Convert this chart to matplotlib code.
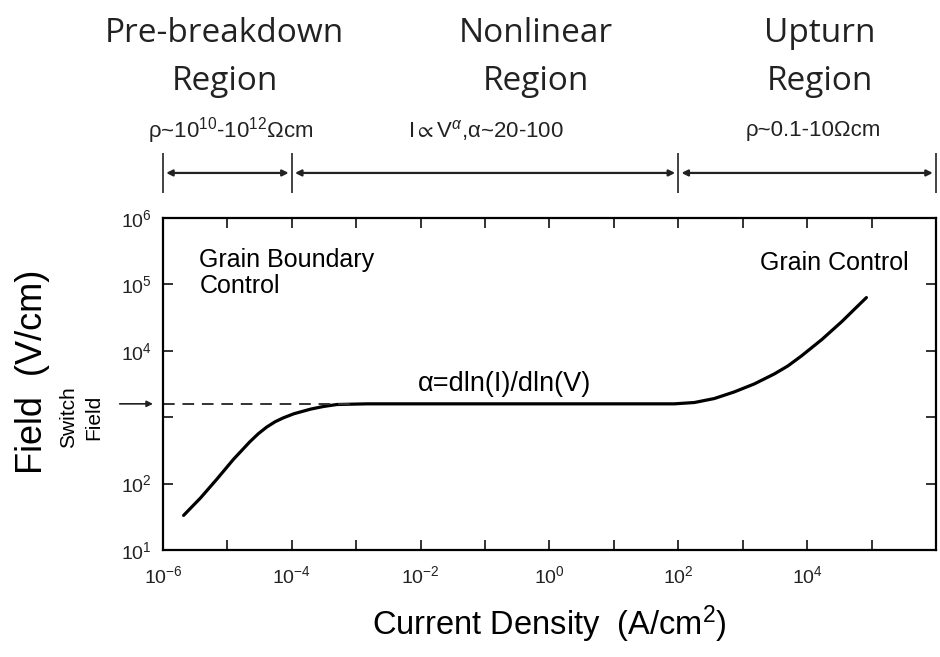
import numpy as np
import matplotlib
matplotlib.use("Agg")
import matplotlib.pyplot as plt
from matplotlib.ticker import FixedLocator, FuncFormatter, NullLocator

plt.rcParams['font.family'] = ['Liberation Sans', 'DejaVu Sans']
plt.rcParams['mathtext.fontset'] = 'custom'
plt.rcParams['mathtext.rm'] = 'Liberation Sans'
plt.rcParams['mathtext.it'] = 'Liberation Sans:italic'
plt.rcParams['mathtext.fallback'] = 'stixsans'

# ---------------- data (log10 units) ----------------
current_exp = [-5.68, -5.42, -5.16, -4.91, -4.65, -4.52, -4.39, -4.26, -4.13, -3.97,
               -3.71, -3.51, -3.30, -2.83, -2.0, -1.0, 0.0, 1.0, 1.57, 1.94,
               2.25, 2.56, 2.87, 3.18, 3.49, 3.70, 3.91, 4.23, 4.54, 4.74, 4.92]
field_exp = [1.52, 1.78, 2.07, 2.36, 2.63, 2.75, 2.85, 2.93, 2.99, 3.05,
             3.12, 3.16, 3.19, 3.20, 3.20, 3.20, 3.20, 3.20, 3.20, 3.20,
             3.22, 3.28, 3.38, 3.50, 3.65, 3.77, 3.92, 4.17, 4.44, 4.63, 4.80]
current = [10 ** e for e in current_exp]
field = [10 ** e for e in field_exp]

switch_field = 10 ** 3.2
dash_end = 10 ** -3.1

# region boundaries on the current axis
region_bounds = [1e-6, 1e-4, 1e2, 1e6]
region_names = ['Pre-breakdown\nRegion', 'Nonlinear\nRegion', 'Upturn\nRegion']
region_notes = [r'ρ~10$^{10}$-10$^{12}$Ωcm', r'I$\propto$V$^{α}$,α~20-100', r'ρ~0.1-10Ωcm']

x_ticks = [10.0 ** k for k in range(-6, 7)]
x_labels = {-6, -4, -2, 0, 2, 4}
y_ticks = [10.0 ** k for k in range(1, 7)]
y_labels = {1, 2, 4, 5, 6}

# ---------------- figure ----------------
fig = plt.figure(figsize=(9.4, 6.57), dpi=100)
ax = fig.add_axes([0.1734, 0.163, 0.8223, 0.5053])

ax.plot(current, field, color='black', lw=2.3, solid_capstyle='round',
        solid_joinstyle='round')
ax.plot([1e-6, dash_end], [switch_field, switch_field], color='#333333',
        lw=1.4, ls=(0, (6, 4)))

ax.set_xscale('log')
ax.set_yscale('log')
ax.set_xlim(1e-6, 1e6)
ax.set_ylim(10, 1e6)

ax.xaxis.set_major_locator(FixedLocator(x_ticks))
ax.yaxis.set_major_locator(FixedLocator(y_ticks))
ax.xaxis.set_minor_locator(NullLocator())
ax.yaxis.set_minor_locator(NullLocator())


def exp_fmt(keep):
    def f(v, pos):
        k = int(round(np.log10(v)))
        return r'$\mathregular{10^{%d}}$' % k if k in keep else ''
    return f


ax.xaxis.set_major_formatter(FuncFormatter(exp_fmt(x_labels)))
ax.yaxis.set_major_formatter(FuncFormatter(exp_fmt(y_labels)))
ax.tick_params(which='both', direction='in', top=True, right=True,
               length=7, width=1.3, labelsize=14, colors='#222222')
ax.tick_params(axis='x', pad=11)
ax.tick_params(axis='y', pad=8)
for s in ax.spines.values():
    s.set_linewidth(1.6)

ax.set_xlabel('Current Density  (A/cm$^2$)', fontsize=23.5, labelpad=12)
ax.set_ylabel('Field  (V/cm)', fontsize=26)
ax.yaxis.set_label_coords(-0.146, 0.536)

# switch field marker
ax.annotate('', xy=(-0.013, switch_field), xytext=(-0.056, switch_field),
            xycoords=('axes fraction', 'data'), textcoords=('axes fraction', 'data'),
            arrowprops=dict(arrowstyle='-|>', color='#222222', lw=1.2,
                            mutation_scale=9, shrinkA=0, shrinkB=0))
ax.text(-0.106, 0.40, 'Switch\nField', transform=ax.transAxes, rotation=90,
        ha='center', va='center', fontsize=15, linespacing=1.45)

# inner labels
ax.text(0.047, 0.91, 'Grain Boundary\nControl', transform=ax.transAxes,
        ha='left', va='top', fontsize=18, linespacing=1.1)
ax.text(0.964, 0.865, 'Grain Control', transform=ax.transAxes,
        ha='right', va='center', fontsize=18)
ax.text(0.442, 0.50, r'α=dln(I)/dln(V)', transform=ax.transAxes,
        ha='center', va='center', fontsize=19.5)

# region bar above the axes
xt = ax.get_xaxis_transform()
ax.vlines(region_bounds, 1.075, 1.196, transform=xt, color='#222222',
          lw=1.2, clip_on=False)
for a, b in zip(region_bounds[:-1], region_bounds[1:]):
    ax.annotate('', xy=(a * 1.12, 1.1355), xytext=(b / 1.12, 1.1355),
                xycoords=xt, textcoords=xt,
                arrowprops=dict(arrowstyle='<|-|>', color='#222222', lw=1.6,
                                mutation_scale=9, shrinkA=0, shrinkB=0))

name_x = [0.239, 0.570, 0.872]
note_x = [0.245, 0.517, 0.865]
for nx, name in zip(name_x, region_names):
    fig.text(nx, 0.913, name, ha='center', va='center', fontsize=24,
             family=['Open Sans', 'DejaVu Sans'], linespacing=1.6, color='#222222')
for nx, note in zip(note_x, region_notes):
    fig.text(nx, 0.802, note, ha='center', va='center', fontsize=16,
             color='#222222')

fig.savefig('out.png', dpi=100)
